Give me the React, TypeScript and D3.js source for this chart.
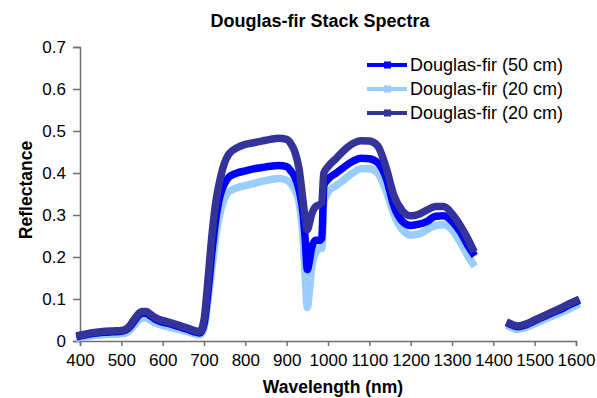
import { useEffect, useRef } from "react"
import * as d3 from "d3"

// wavelengths (nm); 1400 is a gap (no data)
const wavelengths = [
  400, 420, 440, 460, 480, 500, 510, 520, 530, 540, 550, 560, 570, 580, 590, 600, 620, 640, 660, 680, 690,
  700, 710, 720, 730, 740, 750, 760, 780, 800, 820, 840, 860, 880, 900, 910, 920, 930, 940, 945, 950, 955,
  960, 970, 980, 985, 990, 1000, 1020, 1040, 1060, 1080, 1100, 1120, 1140, 1160, 1180, 1200, 1220, 1240,
  1260, 1280, 1300, 1320, 1340, 1350, 1400, 1440, 1460, 1480, 1500, 1520, 1540, 1560, 1580, 1600,
]

const fir50 = [
  0.012, 0.016, 0.019, 0.021, 0.022, 0.023, 0.026, 0.033, 0.046, 0.059, 0.066, 0.066, 0.06, 0.053, 0.048,
  0.045, 0.04, 0.034, 0.028, 0.021, 0.019, 0.04, 0.12, 0.22, 0.3, 0.35, 0.375, 0.39, 0.4, 0.405, 0.41, 0.413,
  0.416, 0.418, 0.415, 0.405, 0.39, 0.36, 0.3, 0.24, 0.17, 0.19, 0.22, 0.24, 0.24, 0.245, 0.37, 0.385, 0.4,
  0.415, 0.428, 0.435, 0.434, 0.425, 0.39, 0.32, 0.285, 0.275, 0.278, 0.285, 0.297, 0.298, 0.285, 0.26,
  0.225, 0.21, null, 0.04, 0.034, 0.039, 0.048, 0.057, 0.066, 0.074, 0.084, 0.093,
]

const fir20a = [
  0.008, 0.011, 0.014, 0.015, 0.016, 0.017, 0.019, 0.025, 0.036, 0.048, 0.055, 0.055, 0.05, 0.044, 0.04,
  0.037, 0.032, 0.027, 0.022, 0.016, 0.015, 0.03, 0.1, 0.18, 0.26, 0.31, 0.34, 0.355, 0.365, 0.37, 0.375,
  0.38, 0.384, 0.387, 0.383, 0.375, 0.36, 0.33, 0.24, 0.15, 0.08, 0.12, 0.17, 0.21, 0.22, 0.22, 0.33, 0.355,
  0.37, 0.385, 0.4, 0.41, 0.41, 0.4, 0.36, 0.3, 0.265, 0.252, 0.255, 0.265, 0.275, 0.277, 0.265, 0.235, 0.2,
  0.185, null, 0.034, 0.028, 0.033, 0.041, 0.05, 0.058, 0.066, 0.075, 0.085,
]

const fir20b = [
  0.014, 0.018, 0.021, 0.023, 0.024, 0.025, 0.028, 0.036, 0.05, 0.063, 0.07, 0.07, 0.064, 0.057, 0.052,
  0.049, 0.043, 0.037, 0.031, 0.024, 0.022, 0.05, 0.15, 0.26, 0.34, 0.39, 0.425, 0.445, 0.46, 0.468, 0.472,
  0.476, 0.48, 0.483, 0.48, 0.47, 0.45, 0.41, 0.33, 0.29, 0.265, 0.28, 0.3, 0.32, 0.325, 0.33, 0.4, 0.415,
  0.435, 0.455, 0.47, 0.477, 0.476, 0.465, 0.415, 0.345, 0.31, 0.298, 0.302, 0.312, 0.32, 0.32, 0.303,
  0.275, 0.24, 0.22, null, 0.042, 0.036, 0.041, 0.05, 0.059, 0.068, 0.077, 0.087, 0.096,
]

const legendNames = ["Douglas-fir (50 cm)", "Douglas-fir (20 cm)", "Douglas-fir (20 cm)"]
const seriesColors = ["#0000ff", "#99ccff", "#333399"]
const xTicks = [400, 500, 600, 700, 800, 900, 1000, 1100, 1200, 1300, 1400, 1500, 1600]
const yTicks = [0, 0.1, 0.2, 0.3, 0.4, 0.5, 0.6, 0.7]

export default function App() {
  const svgRef = useRef<SVGSVGElement>(null)

  useEffect(() => {
    if (!svgRef.current) return
    const svg = d3.select(svgRef.current)
    svg.selectAll("*").remove()

    const font = "'Liberation Sans', Arial, sans-serif"
    const axisColor = "#707070"

    const x = d3.scaleLinear().domain([400, 1600]).range([80, 576])
    const y = d3.scaleLinear().domain([0, 0.7]).range([341, 47])

    // titulo
    svg.append("text")
      .attr("x", 320).attr("y", 27)
      .attr("text-anchor", "middle")
      .style("font-family", font).style("font-size", "18px").style("font-weight", "bold")
      .text("Douglas-fir Stack Spectra")

    // ejes
    const yAxis = svg.append("g").attr("transform", `translate(80,0)`)
      .call(d3.axisLeft(y).tickValues(yTicks).tickSize(7).tickPadding(7)
        .tickFormat((d) => (d === 0 ? "0" : d3.format(".1f")(d as number))))
    const xAxis = svg.append("g").attr("transform", `translate(0,341)`)
      .call(d3.axisBottom(x).tickValues(xTicks).tickSize(5).tickPadding(8).tickFormat(d3.format("d")))

    for (const ax of [xAxis, yAxis]) {
      ax.select(".domain").attr("stroke", axisColor).attr("stroke-width", 1.5)
      ax.selectAll(".tick line").attr("stroke", axisColor).attr("stroke-width", 1.5)
      ax.selectAll(".tick text").attr("fill", "#000").style("font-family", font).style("font-size", "17px")
    }

    // titulos de ejes
    svg.append("text")
      .attr("x", 333).attr("y", 393)
      .attr("text-anchor", "middle")
      .style("font-family", font).style("font-size", "17.5px").style("font-weight", "bold")
      .text("Wavelength (nm)")
    svg.append("text")
      .attr("transform", "translate(32,190) rotate(-90)")
      .attr("text-anchor", "middle")
      .style("font-family", font).style("font-size", "17.5px").style("font-weight", "bold")
      .text("Reflectance")

    // series (light drawn first, navy on top)
    const allSeries = [fir50, fir20a, fir20b]
    const order = [1, 0, 2]
    const line = d3.line<[number, number | null]>()
      .defined((d) => d[1] !== null)
      .x((d) => x(d[0]))
      .y((d) => y(d[1] as number))
      .curve(d3.curveMonotoneX)

    order.forEach((i) => {
      const pts = wavelengths.map((w, k) => [w, allSeries[i][k]] as [number, number | null])
      svg.append("path")
        .attr("d", line(pts))
        .attr("fill", "none")
        .attr("stroke", seriesColors[i])
        .attr("stroke-width", 7.5)
        .attr("stroke-linejoin", "round")
        .attr("stroke-linecap", "square")
    })

    // leyenda
    const legend = svg.append("g")
    legendNames.forEach((name, i) => {
      const ly = 65 + i * 24
      legend.append("line")
        .attr("x1", 367).attr("x2", 407).attr("y1", ly).attr("y2", ly)
        .attr("stroke", seriesColors[i]).attr("stroke-width", 4)
      legend.append("rect")
        .attr("x", 384).attr("y", ly - 3.5).attr("width", 7).attr("height", 7)
        .attr("fill", seriesColors[i])
      legend.append("text")
        .attr("x", 410).attr("y", ly + 6)
        .style("font-family", font).style("font-size", "18px")
        .text(name)
    })
  }, [])

  return (
    <svg ref={svgRef} width={597} height={398}
      style={{ position: "absolute", left: 0, top: 0, background: "#fff" }} />
  )
}
